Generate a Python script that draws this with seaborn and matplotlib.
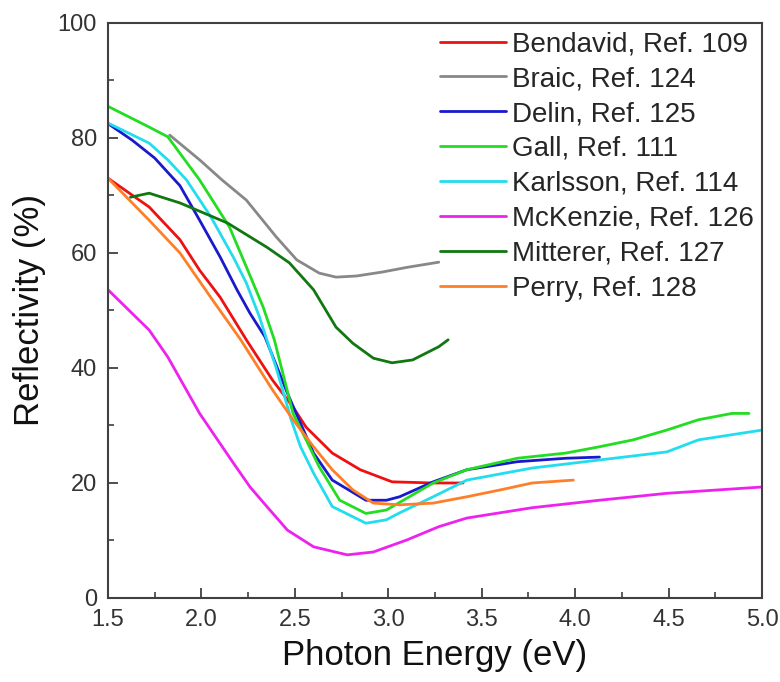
import seaborn as sns
import pandas as pd
import matplotlib.pyplot as plt
from matplotlib.ticker import MultipleLocator

sns.set_style("ticks")
plt.rcParams['font.family'] = ['Liberation Sans', 'DejaVu Sans']

# values
bendavid_e = [1.50, 1.72, 1.885, 1.99, 2.10, 2.24, 2.38, 2.49, 2.56, 2.70, 2.85, 3.02, 3.24, 3.40]
bendavid_r = [73.0, 68.0, 62.3, 57.0, 52.3, 44.9, 37.9, 33.2, 29.7, 25.2, 22.3, 20.2, 20.0, 20.0]

braic_e = [1.83, 1.99, 2.11, 2.24, 2.40, 2.51, 2.63, 2.72, 2.83, 2.97, 3.10, 3.27]
braic_r = [80.5, 76.2, 72.7, 69.2, 62.8, 58.8, 56.5, 55.8, 56.0, 56.7, 57.5, 58.4]

delin_e = [1.50, 1.63, 1.75, 1.885, 1.99, 2.10, 2.19, 2.26, 2.34, 2.46, 2.53, 2.60, 2.70, 2.88, 2.99, 3.06, 3.24, 3.42, 3.69, 3.95, 4.13]
delin_r = [82.5, 79.6, 76.5, 71.7, 65.7, 59.3, 53.6, 49.5, 45.4, 35.6, 30.4, 25.2, 20.5, 17.0, 17.0, 17.6, 20.2, 22.3, 23.7, 24.3, 24.5]

gall_e = [1.50, 1.72, 1.82, 1.99, 2.15, 2.24, 2.33, 2.39, 2.49, 2.56, 2.63, 2.74, 2.88, 2.99, 3.24, 3.42, 3.69, 3.95, 4.13, 4.31, 4.49, 4.66, 4.84, 4.93]
gall_r = [85.5, 81.9, 80.2, 72.7, 64.5, 57.6, 50.6, 44.9, 32.1, 27.5, 22.8, 17.0, 14.7, 15.3, 20.0, 22.3, 24.3, 25.2, 26.3, 27.5, 29.2, 31.0, 32.1, 32.1]

karlsson_e = [1.50, 1.72, 1.82, 1.92, 2.05, 2.17, 2.24, 2.31, 2.35, 2.40, 2.46, 2.48, 2.53, 2.60, 2.70, 2.88, 2.99, 3.06, 3.24, 3.42, 3.77, 4.13, 4.49, 4.66, 5.00]
karlsson_r = [82.6, 79.1, 76.2, 72.7, 66.3, 59.3, 54.8, 48.9, 44.9, 40.0, 33.3, 31.0, 26.3, 21.7, 15.9, 13.0, 13.6, 14.8, 17.6, 20.5, 22.6, 24.0, 25.4, 27.5, 29.2]

mckenzie_e = [1.50, 1.72, 1.82, 1.99, 2.17, 2.26, 2.35, 2.46, 2.60, 2.78, 2.92, 3.10, 3.27, 3.42, 3.77, 4.13, 4.49, 5.00]
mckenzie_r = [53.6, 46.6, 41.9, 32.1, 23.5, 19.3, 15.9, 11.8, 8.9, 7.5, 8.0, 10.1, 12.4, 13.9, 15.7, 17.0, 18.2, 19.3]

mitterer_e = [1.62, 1.72, 1.885, 2.14, 2.35, 2.47, 2.60, 2.72, 2.81, 2.92, 3.02, 3.13, 3.27, 3.32]
mitterer_r = [69.7, 70.4, 68.7, 65.2, 61.0, 58.3, 53.6, 47.1, 44.3, 41.7, 40.9, 41.4, 43.7, 44.9]

perry_e = [1.50, 1.72, 1.885, 2.06, 2.21, 2.38, 2.49, 2.60, 2.70, 2.81, 2.92, 3.06, 3.24, 3.42, 3.60, 3.77, 3.99]
perry_r = [73.0, 65.7, 60.0, 51.8, 44.9, 36.2, 31.0, 26.3, 22.3, 18.8, 16.5, 16.2, 16.5, 17.6, 18.8, 20.0, 20.5]

labels = ["Bendavid, Ref. 109", "Braic, Ref. 124", "Delin, Ref. 125", "Gall, Ref. 111",
          "Karlsson, Ref. 114", "McKenzie, Ref. 126", "Mitterer, Ref. 127", "Perry, Ref. 128"]
colors = ["#ee1111", "#888888", "#1a1acc", "#22dd22", "#22ddee", "#ee22ee", "#117711", "#ff7f27"]

series = [(bendavid_e, bendavid_r), (braic_e, braic_r), (delin_e, delin_r), (gall_e, gall_r),
          (karlsson_e, karlsson_r), (mckenzie_e, mckenzie_r), (mitterer_e, mitterer_r), (perry_e, perry_r)]

frames = []
for lab, (e, r) in zip(labels, series):
    frames.append(pd.DataFrame({"energy": e, "refl": r, "source": lab}))
df = pd.concat(frames, ignore_index=True)

fig = plt.figure(figsize=(7.8, 6.82), dpi=100)
ax = fig.add_axes([0.1385, 0.1232, 0.8385, 0.8431])

sns.lineplot(data=df, x="energy", y="refl", hue="source", hue_order=labels,
             palette=dict(zip(labels, colors)), estimator=None, linewidth=2, ax=ax)

ax.set_xlim(1.5, 5.0)
ax.set_ylim(0, 100)
ax.xaxis.set_major_locator(MultipleLocator(0.5))
ax.xaxis.set_minor_locator(MultipleLocator(0.25))
ax.yaxis.set_major_locator(MultipleLocator(20))
ax.yaxis.set_minor_locator(MultipleLocator(10))
ax.xaxis.set_major_formatter(plt.FormatStrFormatter('%.1f'))

ax.tick_params(which='major', direction='in', length=7, width=1.3, colors='#404040',
               labelsize=17, labelcolor='#333333', pad=8)
ax.tick_params(which='minor', direction='in', length=4, width=1.2, colors='#404040')
for s in ax.spines.values():
    s.set_visible(True)
    s.set_color('#404040')
    s.set_linewidth(1.5)

ax.set_xlabel("Photon Energy (eV)", fontsize=25, color='#111111', labelpad=6)
ax.set_ylabel("Reflectivity (%)", fontsize=25, color='#111111', labelpad=8)

leg = ax.legend(loc='upper right', frameon=False, fontsize=20, handlelength=2.4,
                handletextpad=0.2, labelspacing=0.32, borderaxespad=0.1, borderpad=0.2)
for line in leg.get_lines():
    line.set_linewidth(2)

fig.savefig("out.png", dpi=100)
